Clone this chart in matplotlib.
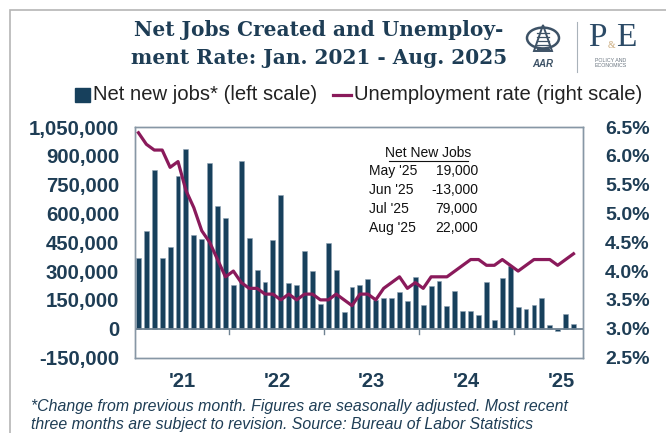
import matplotlib
matplotlib.use("Agg")
import matplotlib.pyplot as plt
from matplotlib.patches import Rectangle, Circle, Polygon
from matplotlib.lines import Line2D

# ---------------- data ----------------
year_labels = ["'21", "'22", "'23", "'24", "'25"]
net_jobs = [
    367000, 511000, 826000, 367000, 425000, 797000, 934000, 489000, 468000, 861000, 639000, 577000,
    229000, 872000, 473000, 307000, 243000, 463000, 698000, 239000, 229000, 402000, 300000, 130000,
    447000, 308000, 88000, 218000, 229000, 260000, 151000, 159000, 159000, 189000, 146000, 270000,
    123000, 223000, 248000, 120000, 196000, 90000, 92000, 73000, 244000, 47000, 263000, 324000,
    113000, 104000, 123000, 161000, 19000, -13000, 79000, 22000,
]
unemployment = [
    6.4, 6.2, 6.1, 6.1, 5.8, 5.9, 5.4, 5.1, 4.7, 4.5, 4.2, 3.9,
    4.0, 3.8, 3.7, 3.7, 3.6, 3.6, 3.5, 3.6, 3.5, 3.6, 3.6, 3.5,
    3.5, 3.6, 3.5, 3.4, 3.6, 3.6, 3.5, 3.7, 3.8, 3.9, 3.7, 3.8,
    3.7, 3.9, 3.9, 3.9, 4.0, 4.1, 4.2, 4.2, 4.1, 4.1, 4.2, 4.1,
    4.0, 4.1, 4.2, 4.2, 4.2, 4.1, 4.2, 4.3,
]
table_months = ["May '25", "Jun '25", "Jul '25", "Aug '25"]
table_values = ["19,000", "-13,000", "79,000", "22,000"]
left_ticks = list(range(-150000, 1050001, 150000))
right_ticks = [2.5, 3.0, 3.5, 4.0, 4.5, 5.0, 5.5, 6.0, 6.5]

W, H = 666, 433
NAVY = "#17405c"
MAROON = "#8a1a5b"
TXT = "#1e3d55"
SPINE = "#8797a5"

plt.rcParams['font.family'] = ['Liberation Sans', 'DejaVu Sans']

fig = plt.figure(figsize=(W / 100, H / 100), dpi=100)

def fx(px):
    return px / W

def fy(py):
    return 1 - py / H

# outer border
fig.add_artist(Rectangle((fx(10), fy(440)), fx(700) - fx(10), fy(10) - fy(440),
                         transform=fig.transFigure, fill=False, ec="#b5b5b5", lw=1.2))

# axes
left, right, top, bottom = 134.5, 583, 127, 357.5
ax = fig.add_axes([fx(left), fy(bottom), fx(right) - fx(left), fy(top) - fy(bottom)])
ax2 = ax.twinx()

n = len(net_jobs)
x = list(range(n))
ax.bar(x, net_jobs, width=0.62, color=NAVY, edgecolor="#8ea2b3", linewidth=0.4, zorder=2)
ax.axhline(0, color="#6f8292", lw=1.3, zorder=3)
ax2.plot(x, unemployment, color=MAROON, lw=2.3, solid_joinstyle="round", zorder=4)

ax.set_xlim(-0.5, 56.2)
ax.set_ylim(-150000, 1050000)
ax2.set_ylim(2.5, 6.5)

ax.set_yticks(left_ticks)
ax.set_yticklabels([f"{v:,}" for v in left_ticks])
ax2.set_yticks(right_ticks)
ax2.set_yticklabels([f"{v:.1f}%" for v in right_ticks])
ax.tick_params(axis="y", length=0, labelsize=14.7, labelcolor=TXT, pad=11)
ax2.tick_params(axis="y", length=0, labelsize=14, labelcolor=TXT, pad=16)
for a in (ax, ax2):
    for lab in a.get_yticklabels():
        lab.set_fontweight("bold")

ax.set_xticks([])
for sp in list(ax.spines.values()) + list(ax2.spines.values()):
    sp.set_color(SPINE)
    sp.set_linewidth(1.0)

# year separator ticks at the zero line and year labels
for k in range(1, 5):
    xb = 12 * k - 0.5
    ax.plot([xb, xb], [0, -30000], color="#6f8292", lw=1.0, clip_on=False, zorder=3)
for k, lab in enumerate(year_labels):
    ax.text(12 * k + 5.5, -0.106, lab, transform=ax.get_xaxis_transform(),
            ha="center", va="center", fontsize=14.5, fontweight="bold", color=TXT)

# inset table
fig.text(fx(428), fy(153), "Net New Jobs", ha="center", va="center", fontsize=10, color="#111111")
fig.add_artist(Line2D([fx(389), fx(468)], [fy(161), fy(161)], transform=fig.transFigure,
                      color="#111111", lw=0.8))
for i, (m, v) in enumerate(zip(table_months, table_values)):
    yy = 171 + i * 19
    fig.text(fx(369), fy(yy), m, ha="left", va="center", fontsize=10, color="#111111")
    fig.text(fx(478), fy(yy), v, ha="right", va="center", fontsize=10, color="#111111")

# title
fig.text(fx(319), fy(30), "Net Jobs Created and Unemploy-", ha="center", va="center",
         fontsize=14.5, fontweight="bold", family=["DejaVu Serif"], color=TXT)
fig.text(fx(319), fy(58), "ment Rate: Jan. 2021 - Aug. 2025", ha="center", va="center",
         fontsize=14.5, fontweight="bold", family=["DejaVu Serif"], color=TXT)

# legend
fig.add_artist(Rectangle((fx(75), fy(102)), fx(15), fy(88) - fy(102), transform=fig.transFigure,
                         color=NAVY))
fig.text(fx(93), fy(95), "Net new jobs* (left scale)", ha="left", va="center", fontsize=14.6,
         color="#222222")
fig.add_artist(Line2D([fx(333), fx(351)], [fy(95), fy(95)], transform=fig.transFigure,
                      color=MAROON, lw=2.3))
fig.text(fx(354), fy(95), "Unemployment rate (right scale)", ha="left", va="center", fontsize=14.6,
         color="#222222")

# logo (approximate)
LOGO = "#3d5266"
cx, cy, r = 543, 38, 16
fig.add_artist(Circle((fx(cx), fy(cy)), r / W, transform=fig.transFigure, fill=False,
                      ec=LOGO, lw=1.8))
fig.add_artist(Polygon([(fx(cx - 9), fy(cy + 13)), (fx(cx), fy(cy - 13)), (fx(cx + 9), fy(cy + 13))],
                       closed=True, transform=fig.transFigure, fill=False, ec=LOGO, lw=1.4))
for dy in (-5, -1, 3, 7, 11):
    fig.add_artist(Line2D([fx(cx - 6), fx(cx + 6)], [fy(cy + dy), fy(cy + dy)],
                          transform=fig.transFigure, color=LOGO, lw=0.9))
fig.text(fx(cx), fy(64), "AAR", ha="center", va="center", fontsize=7, style="italic",
         fontweight="bold", color=LOGO)
fig.add_artist(Line2D([fx(577), fx(577)], [fy(22), fy(72)], transform=fig.transFigure,
                      color="#a9b2ba", lw=0.8))
fig.text(fx(597), fy(38), "P", ha="center", va="center", fontsize=24,
         family=["Liberation Serif"], color="#2b4a66")
fig.text(fx(626), fy(38), "E", ha="center", va="center", fontsize=24,
         family=["Liberation Serif"], color="#2b4a66")
fig.text(fx(611.5), fy(46), "&", ha="center", va="center", fontsize=7,
         family=["Liberation Serif"], color="#c9a878")
fig.text(fx(611), fy(63), "POLICY AND\nECONOMICS", ha="center", va="center", fontsize=3.8,
         color="#6a7580", linespacing=1.2)

# footnote
fig.text(fx(31), fy(407), "*Change from previous month. Figures are seasonally adjusted. Most recent",
         ha="left", va="center", fontsize=11.4, style="italic", color=TXT)
fig.text(fx(31), fy(424), "three months are subject to revision. Source: Bureau of Labor Statistics",
         ha="left", va="center", fontsize=11.4, style="italic", color=TXT)

fig.savefig("out.png", dpi=100)
